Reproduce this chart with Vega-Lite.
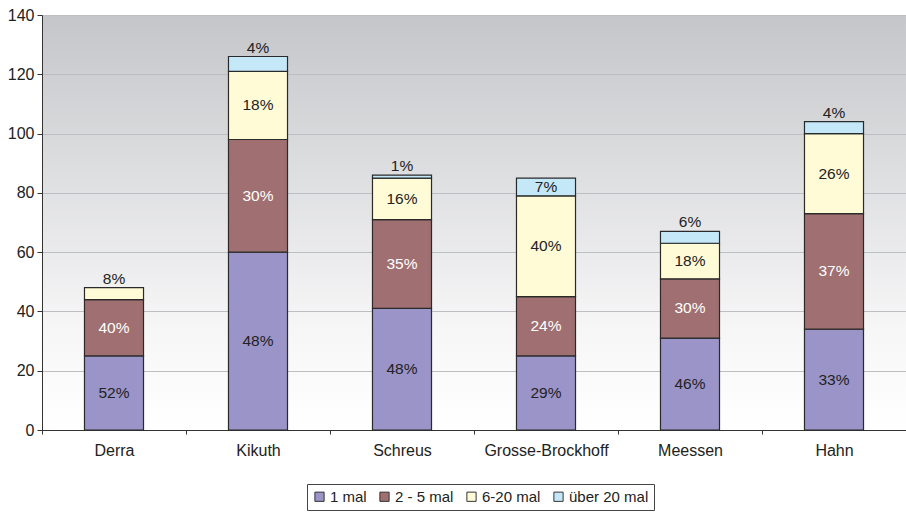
{
  "$schema": "https://vega.github.io/schema/vega-lite/v6.json",
  "width": 864,
  "height": 415,
  "autosize": {"type": "none"},
  "padding": {"left": 42, "top": 15, "right": 0, "bottom": 84},
  "background": "white",
  "config": {
    "font": "Liberation Sans",
    "view": {
      "stroke": null,
      "fill": {"gradient": "linear", "x1": 0, "y1": 0, "x2": 0, "y2": 1,
        "stops": [{"offset": 0, "color": "#c5c6c9"}, {"offset": 0.75, "color": "#f6f6f7"}, {"offset": 1, "color": "#ffffff"}]}
    },
    "axis": {"labelFont": "Liberation Sans", "labelColor": "#222", "labelFontSize": 16, "domainColor": "#333", "tickColor": "#333", "title": null}
  },
  "data": {"values": [
    {"name": "Derra", "cat": "1 mal", "n": 25, "label": "52%"},
    {"name": "Derra", "cat": "2 - 5 mal", "n": 19, "label": "40%"},
    {"name": "Derra", "cat": "6-20 mal", "n": 4, "label": "8%"},
    {"name": "Kikuth", "cat": "1 mal", "n": 60, "label": "48%"},
    {"name": "Kikuth", "cat": "2 - 5 mal", "n": 38, "label": "30%"},
    {"name": "Kikuth", "cat": "6-20 mal", "n": 23, "label": "18%"},
    {"name": "Kikuth", "cat": "über 20 mal", "n": 5, "label": "4%"},
    {"name": "Schreus", "cat": "1 mal", "n": 41, "label": "48%"},
    {"name": "Schreus", "cat": "2 - 5 mal", "n": 30, "label": "35%"},
    {"name": "Schreus", "cat": "6-20 mal", "n": 14, "label": "16%"},
    {"name": "Schreus", "cat": "über 20 mal", "n": 1, "label": "1%"},
    {"name": "Grosse-Brockhoff", "cat": "1 mal", "n": 25, "label": "29%"},
    {"name": "Grosse-Brockhoff", "cat": "2 - 5 mal", "n": 20, "label": "24%"},
    {"name": "Grosse-Brockhoff", "cat": "6-20 mal", "n": 34, "label": "40%"},
    {"name": "Grosse-Brockhoff", "cat": "über 20 mal", "n": 6, "label": "7%"},
    {"name": "Meessen", "cat": "1 mal", "n": 31, "label": "46%"},
    {"name": "Meessen", "cat": "2 - 5 mal", "n": 20, "label": "30%"},
    {"name": "Meessen", "cat": "6-20 mal", "n": 12, "label": "18%"},
    {"name": "Meessen", "cat": "über 20 mal", "n": 4, "label": "6%"},
    {"name": "Hahn", "cat": "1 mal", "n": 34, "label": "33%"},
    {"name": "Hahn", "cat": "2 - 5 mal", "n": 39, "label": "37%"},
    {"name": "Hahn", "cat": "6-20 mal", "n": 27, "label": "26%"},
    {"name": "Hahn", "cat": "über 20 mal", "n": 4, "label": "4%"}
  ]},
  "transform": [
    {"stack": "n", "groupby": ["name"], "sort": [{"field": "cat", "order": "ascending"}], "as": ["y0", "y1"]},
    {"calculate": "(datum.y0 + datum.y1) / 2", "as": "ymid"}
  ],
  "encoding": {
    "x": {
      "field": "name", "type": "nominal", "sort": null,
      "scale": {"paddingInner": 0, "paddingOuter": 0},
      "axis": {"labelAngle": 0, "tickBand": "extent", "tickSize": 4, "labelPadding": 8, "labelFontSize": 16}
    }
  },
  "layer": [
    {
      "mark": {"type": "bar", "width": {"band": 0.41}, "stroke": "#2a2a2a", "strokeWidth": 1.2},
      "encoding": {
        "y": {"field": "y1", "type": "quantitative",
          "scale": {"domain": [0, 140], "nice": false},
          "axis": {"values": [0, 20, 40, 60, 80, 100, 120, 140], "gridColor": "#bdbec1", "tickSize": 5, "labelPadding": 3}},
        "y2": {"field": "y0"},
        "color": {
          "field": "cat", "type": "nominal",
          "scale": {"domain": ["1 mal", "2 - 5 mal", "6-20 mal", "über 20 mal"], "range": ["#9a94c8", "#a06f71", "#fffbd6", "#c5e8f8"]},
          "legend": {
            "orient": "none", "legendX": 265, "legendY": 469, "direction": "horizontal",
            "title": null, "strokeColor": "#444", "padding": 5,
            "symbolType": "square", "symbolSize": 85, "symbolStrokeColor": "#333", "symbolStrokeWidth": 1,
            "labelFontSize": 15, "labelColor": "#222", "labelFont": "Liberation Sans", "columnPadding": 10, "labelOffset": 3
          }
        }
      }
    },
    {
      "transform": [{"filter": "datum.n > 5"}],
      "mark": {"type": "text", "fontSize": 15.5, "baseline": "middle", "align": "center"},
      "encoding": {
        "y": {"field": "ymid", "type": "quantitative"},
        "text": {"field": "label"},
        "color": {"condition": {"test": "datum.cat === '2 - 5 mal'", "value": "#ffffff"}, "value": "#222222"}
      }
    },
    {
      "transform": [{"filter": "datum.n <= 5"}],
      "mark": {"type": "text", "fontSize": 15.5, "baseline": "bottom", "align": "center", "dy": -1, "color": "#222222"},
      "encoding": {
        "y": {"field": "y1", "type": "quantitative"},
        "text": {"field": "label"}
      }
    }
  ]
}
